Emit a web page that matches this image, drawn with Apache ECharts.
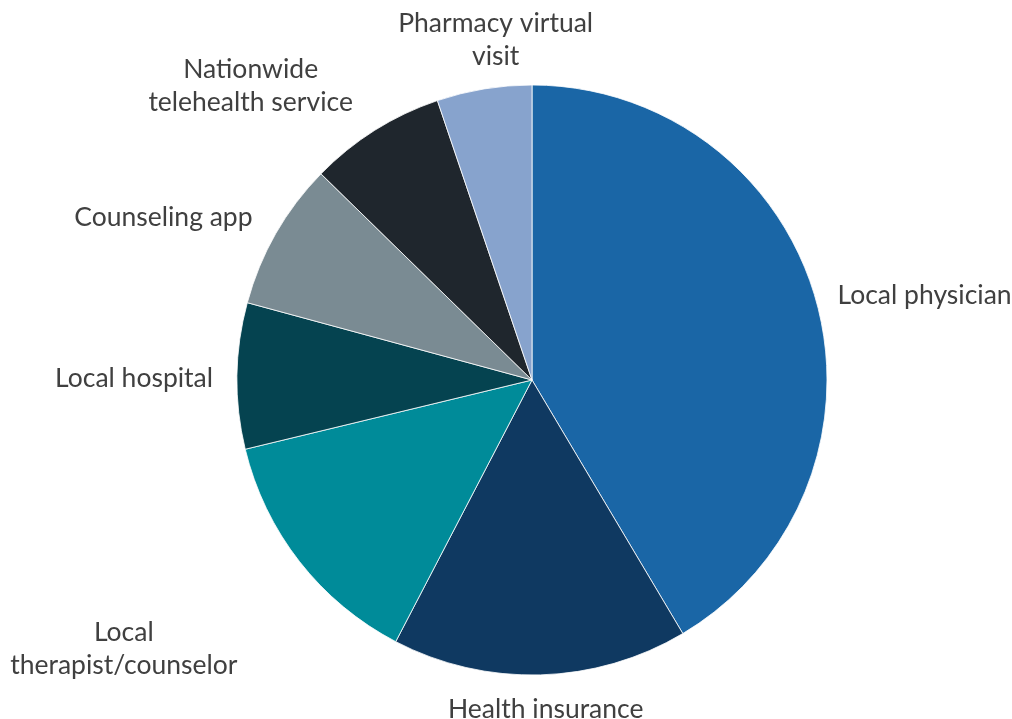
<!DOCTYPE html>
<html><head><meta charset="utf-8">
<script src="https://cdn.jsdelivr.net/npm/echarts@6/dist/echarts.min.js"></script>
<style>html,body{margin:0;padding:0;background:#fff}#c{width:1012px;height:719px}</style>
</head><body><div id="c"></div>
<script>
const categories = ['Local physician','Health insurance','Local therapist/counselor','Local hospital','Counseling app','Nationwide telehealth service','Pharmacy virtual visit'];
const labelTexts = ['Local physician','Health insurance','Local\ntherapist/counselor','Local hospital','Counseling app','Nationwide\ntelehealth service','Pharmacy virtual\nvisit'];
const values = [41.5, 16.2, 13.6, 8.0, 8.1, 7.5, 5.2];
const colors = ['#1a66a6','#0f3961','#008b99','#054350','#7a8b93','#1f262d','#87a3cd'];

// label placement style (offsets in px from the geometric anchor)
const labelNudge = [[3,4],[2,-4],[-69,53],[-2,3],[-16,3],[-58,2],[31,5]];

const CX = 532, CY = 380, R = 295, GAP = 22;
const total = values.reduce((a, b) => a + b, 0);
const midAngles = [];
let acc = 0;
values.forEach(v => { midAngles.push((acc + v / 2) / total * 2 * Math.PI); acc += v; });

const chart = echarts.init(document.getElementById('c'));
chart.setOption({
  animation: false,
  series: [{
    type: 'pie',
    center: [CX, CY],
    radius: R,
    startAngle: 90,
    clockwise: true,
    avoidLabelOverlap: false,
    itemStyle: { borderColor: '#ffffff', borderWidth: 0.8 },
    label: {
      show: true, position: 'outside',
      fontFamily: 'Lato', fontSize: 26.5, color: '#404040', lineHeight: 33,
      formatter: p => labelTexts[p.dataIndex]
    },
    labelLine: { show: false, length: 12, length2: 0 },
    labelLayout: function (p) {
      const i = p.dataIndex;
      const t = midAngles[i];
      const s = Math.sin(t), c = Math.cos(t);
      const w = p.labelRect.width, h = p.labelRect.height;
      const px = CX + (R + GAP) * s, py = CY - (R + GAP) * c;
      return {
        x: px + w / 2 * s + labelNudge[i][0],
        y: py - h / 2 * c + labelNudge[i][1],
        align: 'center', verticalAlign: 'middle'
      };
    },
    data: categories.map((c, i) => ({ name: c, value: values[i], itemStyle: { color: colors[i] } }))
  }]
});
</script></body></html>
